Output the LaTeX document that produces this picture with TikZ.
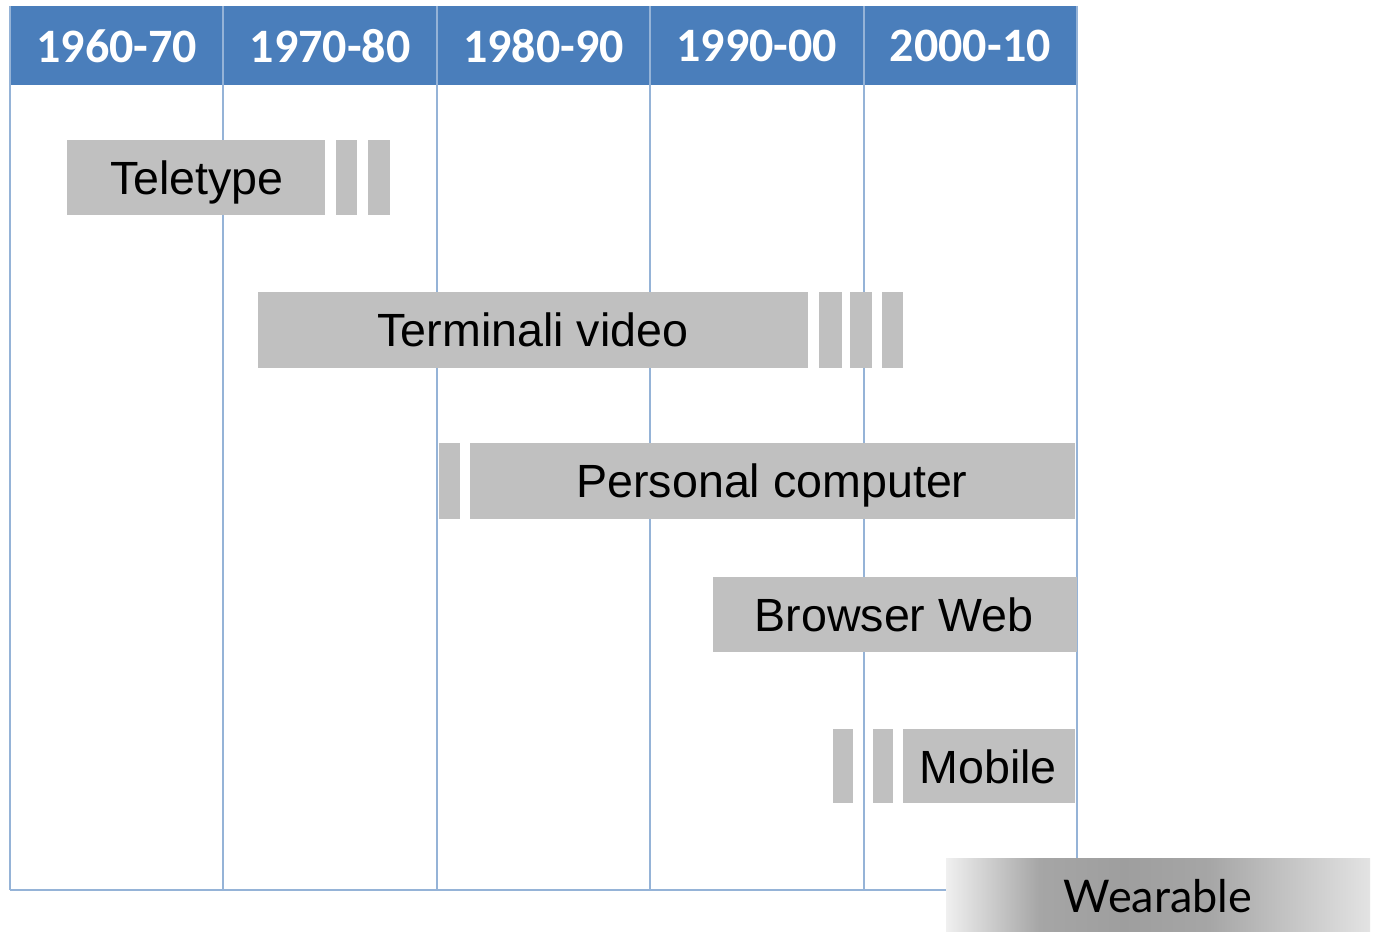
\documentclass[tikz,border=0pt]{standalone}
\usepackage{fontspec}
\setmainfont{Liberation Sans}
\newfontfamily\headfont{Carlito}
\newfontfamily\wearfont{Lato}
\usetikzlibrary{positioning}
\definecolor{headblue}{HTML}{4A7EBB}
\definecolor{gridblue}{HTML}{95B3D7}
\definecolor{bargray}{HTML}{C0C0C0}
\pgfdeclarehorizontalshading{wearshade}{100bp}{color(0bp)=(gray!12); color(25bp)=(gray!12); color(36bp)=(gray!70); color(46bp)=(gray!76); color(56bp)=(gray!70); color(75bp)=(gray!22); color(100bp)=(gray!22)}

\begin{document}
\begin{tikzpicture}[x=0.5pt,y=-0.5pt,
	bar/.style={fill=bargray},
	barlabel/.style={font=\fontsize{23.3}{28}\selectfont, text=black, text height=16.7pt, text depth=0pt},
	year/.style={font=\headfont\bfseries\fontsize{24}{29}\selectfont, text=white},
	gridline/.style={gridblue, line width=1pt}]
	\useasboundingbox (0,0) rectangle (1375,931);
	
	% Header band with the decades
	\fill[headblue] (10,6) rectangle (1077,85);
	\foreach \yr [count=\i] in {1960-70,1970-80,1980-90,1990-00,2000-10}
		\node[year] (yr\i) at ({10+213.4*(\i-0.5)},46) {\yr};
	
	% Column lines and frame
	\foreach \i in {0,...,5}
		\draw[gridline] ({10+213.4*\i},6) -- ({10+213.4*\i},890);
	\draw[gridline] (10,890) -- (1077,890);
	
	% Teletype
	\fill[bar] (67,140) rectangle (325,215);
	\fill[bar] (336,140) rectangle (357,215);
	\fill[bar] (368,140) rectangle (390,215);
	\node[barlabel] (tele) at (197,178) {Teletype};
	
	% Terminali video
	\fill[bar] (258,292) rectangle (808,368);
	\fill[bar] (819,292) rectangle (842,368);
	\fill[bar] (850,292) rectangle (872,368);
	\fill[bar] (882,292) rectangle (903,368);
	\node[barlabel] (term) at (533,330) {Terminali video};
	
	% Personal computer
	\fill[bar] (439,443) rectangle (460,519);
	\fill[bar] (470,443) rectangle (1075,519);
	\node[barlabel] (pc) at (772,481) {Personal computer};
	
	% Browser Web
	\fill[bar] (713,577) rectangle (1077,652);
	\node[barlabel] (web) at (894,615) {Browser Web};
	
	% Mobile
	\fill[bar] (833,729) rectangle (853,803);
	\fill[bar] (873,729) rectangle (893,803);
	\fill[bar] (903,729) rectangle (1075,803);
	\node[barlabel] (mob) at (988,767) {Mobile};
	
	% Wearable
	\shade[shading=wearshade] (946,858) rectangle (1370,931);
	\node[font=\wearfont\fontsize{22.5}{27}\selectfont, text=black] (wear) at (1158,896) {Wearable};
\end{tikzpicture}
\end{document}
